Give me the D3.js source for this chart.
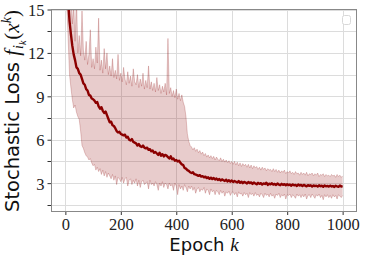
<!DOCTYPE html>
<meta charset="utf-8">
<style>
body { margin: 0; background: white; }
.tick text { font-family: "Liberation Serif", serif; font-size: 16.5px; fill: #222; }
</style>
<body>
<script src="https://cdn.jsdelivr.net/npm/d3@7"></script>
<script>

// epochs sampled every 5
const epochs = d3.range(5, 1001, 5);

const meanLoss = [
  17.5, 15.6, 14.2, 13.3, 12.5, 11.9, 11.5, 11.0, 10.9, 10.6,
  10.5, 10.2, 9.9, 9.8, 9.5, 9.4, 9.1, 9.05, 8.85, 8.8,
  8.7, 8.55, 8.6, 8.3, 8.15, 8.25, 8.0, 7.85, 7.95, 7.7,
  7.45, 7.2, 7.25, 7.0, 6.95, 6.8, 6.6, 6.5, 6.55, 6.4,
  6.35, 6.3, 6.35, 6.15, 6.2, 6.0, 5.95, 6.05, 5.85, 5.8,
  5.75, 5.6, 5.7, 5.55, 5.5, 5.6, 5.45, 5.4, 5.45, 5.3,
  5.35, 5.2, 5.25, 5.1, 5.15, 5.05, 4.95, 5.1, 4.9, 5.0,
  4.85, 4.95, 4.9, 4.8, 4.7, 4.85, 4.65, 4.7, 4.55, 4.6,
  4.5, 4.55, 4.4, 4.3, 4.25, 4.05, 4.0, 3.9, 3.85, 3.75,
  3.7, 3.75, 3.62, 3.6, 3.55, 3.5, 3.55, 3.45, 3.48, 3.4,
  3.45, 3.35, 3.4, 3.3, 3.38, 3.28, 3.35, 3.25, 3.32, 3.22,
  3.28, 3.18, 3.26, 3.2, 3.15, 3.24, 3.12, 3.2, 3.1, 3.18,
  3.08, 3.15, 3.1, 3.05, 3.14, 3.02, 3.1, 3.0, 3.08, 3.04,
  2.98, 3.08, 3.0, 3.05, 2.95, 3.04, 2.98, 2.92, 3.02, 2.95,
  3.0, 2.9, 2.98, 2.94, 3.03, 2.88, 2.96, 2.92, 2.99, 2.9,
  2.95, 2.87, 2.97, 2.9, 2.86, 2.95, 2.88, 2.93, 2.85, 2.92,
  2.86, 2.9, 2.82, 2.91, 2.85, 2.88, 2.8, 2.9, 2.84, 2.87,
  2.8, 2.88, 2.83, 2.78, 2.86, 2.81, 2.85, 2.77, 2.84, 2.8,
  2.83, 2.76, 2.85, 2.79, 2.82, 2.75, 2.84, 2.78, 2.81, 2.76,
  2.83, 2.77, 2.8, 2.74, 2.82, 2.78, 2.75, 2.83, 2.77, 2.79
];

const maxLoss = [
  18.0, 17.0, 16.5, 15.8, 14.0, 15.5, 12.8, 16.0, 12.0, 13.2,
  11.8, 14.9, 12.2, 11.5, 12.8, 11.2, 11.9, 13.6, 11.0, 11.6,
  10.9, 12.4, 11.3, 14.4, 10.8, 11.5, 10.6, 12.3, 10.9, 12.0,
  10.5, 11.1, 10.4, 11.6, 10.3, 10.8, 10.2, 11.9, 10.1, 10.6,
  10.0, 11.0, 10.2, 9.8, 10.7, 9.9, 10.4, 9.7, 10.9, 10.0,
  9.8, 10.5, 9.6, 10.2, 9.7, 10.6, 9.5, 10.1, 9.6, 11.1,
  9.5, 10.0, 9.4, 9.9, 9.3, 10.3, 9.4, 9.8, 9.2, 9.7,
  9.3, 9.9, 9.1, 13.0, 9.2, 9.6, 9.0, 9.4, 8.9, 9.5,
  8.8, 9.2, 8.7, 9.1, 8.6, 8.3, 7.6, 6.4, 5.9, 5.6,
  5.5, 5.3, 5.45, 5.2, 5.35, 5.1, 5.25, 5.0, 5.15, 4.9,
  5.05, 4.8, 4.95, 4.75, 4.9, 4.7, 4.85, 4.6, 4.8, 4.65,
  4.55, 4.75, 4.5, 4.65, 4.45, 4.6, 4.4, 4.55, 4.35, 4.5,
  4.3, 4.5, 4.25, 4.45, 4.2, 4.4, 4.15, 4.35, 4.2, 4.3,
  4.1, 4.3, 4.05, 4.25, 4.0, 4.2, 4.05, 4.15, 3.95, 4.1,
  3.9, 4.1, 3.95, 4.05, 3.85, 4.0, 3.9, 3.95, 3.8, 4.0,
  3.8, 3.95, 3.75, 3.9, 3.7, 3.85, 3.75, 3.9, 3.65, 3.8,
  3.7, 3.85, 3.65, 3.75, 3.6, 3.8, 3.65, 3.7, 3.55, 3.75,
  3.6, 3.7, 3.55, 3.75, 3.5, 3.65, 3.6, 3.7, 3.5, 3.65,
  3.55, 3.7, 3.45, 3.6, 3.55, 3.65, 3.45, 3.6, 3.5, 3.55,
  3.45, 3.6, 3.5, 3.55, 3.4, 3.6, 3.45, 3.55, 3.4, 3.5
];

const minLoss = [
  15.5, 13.0, 10.5, 9.6, 8.8, 8.2, 8.4, 7.9, 7.6, 7.4,
  6.6, 5.6, 5.4, 5.1, 4.9, 4.8, 4.6, 4.7, 4.4, 4.2,
  4.3, 3.9, 4.1, 3.8, 4.0, 3.6, 3.9, 3.5, 3.8, 3.4,
  3.7, 3.5, 3.3, 3.6, 3.2, 3.5, 2.9, 3.4, 3.3, 3.1,
  3.4, 3.0, 3.3, 3.4, 2.8, 3.2, 3.3, 2.9, 3.2, 3.0,
  3.3, 2.8, 3.2, 2.7, 3.1, 3.2, 2.9, 3.0, 3.1, 2.6,
  3.2, 2.9, 3.0, 2.8, 3.1, 2.9, 2.5, 3.0, 2.8, 3.1,
  2.7, 3.0, 2.9, 2.6, 3.0, 2.8, 2.9, 2.5, 3.0, 2.8,
  2.2, 2.9, 2.6, 2.8, 2.5, 2.9, 2.7, 2.4, 2.8, 2.6,
  2.8, 2.5, 2.7, 2.3, 2.6, 2.7, 2.4, 2.6, 2.5, 2.7,
  2.3, 2.6, 2.5, 2.2, 2.6, 2.4, 2.5, 2.2, 2.5, 2.4,
  2.2, 2.5, 2.3, 2.45, 2.1, 2.4, 2.3, 2.45, 2.15, 2.35,
  2.4, 2.2, 2.35, 2.05, 2.4, 2.25, 2.3, 2.1, 2.35, 2.2,
  2.3, 2.0, 2.35, 2.2, 2.3, 2.1, 2.35, 2.15, 2.25, 2.05,
  2.3, 2.2, 2.0, 2.3, 2.15, 2.25, 2.05, 2.3, 2.1, 2.2,
  1.95, 2.25, 2.15, 2.3, 2.0, 2.2, 2.1, 2.25, 1.9, 2.2,
  2.15, 2.25, 2.0, 2.2, 2.1, 1.95, 2.25, 2.1, 2.2, 2.0,
  2.2, 2.05, 2.25, 1.9, 2.15, 2.2, 2.0, 2.25, 2.1, 1.95,
  2.2, 2.1, 2.25, 2.0, 2.15, 1.85, 2.2, 2.05, 2.2, 2.0,
  2.15, 1.95, 2.2, 2.05, 2.15, 1.9, 2.2, 2.1, 2.0, 2.15
];

const xTicks = [0, 200, 400, 600, 800, 1000];
const yTicks = [3, 6, 9, 12, 15];
const yMinor = [1.5, 4.5, 7.5, 10.5, 13.5];

var width = 365,
    height = 260;

var x = d3.scaleLinear().domain([-50, 1050]).range([51.5, 356.5]);
var y = d3.scaleLinear().domain([1.04, 15]).range([211.5, 9.5]);

var svg = d3.select("body").append("svg")
    .attr("width", width)
    .attr("height", height);

svg.append("clipPath").attr("id", "clip")
  .append("rect")
    .attr("x", x.range()[0]).attr("y", y.range()[1])
    .attr("width", x.range()[1] - x.range()[0])
    .attr("height", y.range()[0] - y.range()[1]);

// grid
var grid = svg.append("g").attr("stroke", "#dcdcdc").attr("stroke-width", 1);
grid.selectAll(".gx").data(xTicks).enter().append("line")
    .attr("x1", d => Math.round(x(d)) + 0.5).attr("x2", d => Math.round(x(d)) + 0.5)
    .attr("y1", y.range()[1]).attr("y2", y.range()[0]);
grid.selectAll(".gy").data(yTicks.concat(yMinor)).enter().append("line")
    .attr("y1", d => Math.round(y(d)) + 0.5).attr("y2", d => Math.round(y(d)) + 0.5)
    .attr("x1", x.range()[0]).attr("x2", x.range()[1]);

var rows = epochs.map((e, i) => ({e: e, m: meanLoss[i], lo: minLoss[i], hi: maxLoss[i]}));

var plot = svg.append("g").attr("clip-path", "url(#clip)");

plot.append("path")
    .datum(rows)
    .attr("fill", "#8b0000")
    .attr("fill-opacity", 0.2)
    .attr("d", d3.area().x(d => x(d.e)).y0(d => y(d.lo)).y1(d => y(d.hi)));

["lo", "hi"].forEach(k => {
  plot.append("path")
      .datum(rows)
      .attr("fill", "none")
      .attr("stroke", "#8b0000")
      .attr("stroke-opacity", 0.3)
      .attr("stroke-width", 0.7)
      .attr("d", d3.line().x(d => x(d.e)).y(d => y(d[k])));
});

plot.append("path")
    .datum(rows)
    .attr("fill", "none")
    .attr("stroke", "#8b0000")
    .attr("stroke-width", 2.4)
    .attr("stroke-linejoin", "round")
    .attr("d", d3.line().x(d => x(d.e)).y(d => y(d.m)));

// axes
var xAxis = svg.append("g")
    .attr("transform", "translate(0," + y.range()[0] + ")")
    .call(d3.axisBottom(x).tickValues(xTicks).tickSize(3.5).tickPadding(3).tickFormat(d3.format("d")));
var yAxis = svg.append("g")
    .attr("transform", "translate(" + x.range()[0] + ",0)")
    .call(d3.axisLeft(y).tickValues(yTicks).tickSize(4).tickPadding(3).tickFormat(d3.format("d")));
yAxis.selectAll(".minor").data(yMinor).enter().append("line")
    .attr("x1", -4).attr("x2", 0)
    .attr("y1", d => Math.round(y(d)) + 0.5).attr("y2", d => Math.round(y(d)) + 0.5)
    .attr("stroke", "#333");
[xAxis, yAxis].forEach(a => {
  a.select(".domain").remove();
  a.selectAll(".tick line").attr("stroke", "#333");
});
yAxis.selectAll(".tick text").attr("dy", "0.36em");

// frame
svg.append("rect")
    .attr("x", x.range()[0]).attr("y", y.range()[1])
    .attr("width", x.range()[1] - x.range()[0])
    .attr("height", y.range()[0] - y.range()[1])
    .attr("fill", "none").attr("stroke", "#888").attr("stroke-width", 1);

// empty legend
svg.append("rect")
    .attr("x", 342.5).attr("y", 15.5).attr("width", 8).attr("height", 9).attr("rx", 2)
    .attr("fill", "white").attr("stroke", "#d8d8d8");

// labels
var xl = svg.append("text")
    .attr("x", 204).attr("y", 251)
    .attr("text-anchor", "middle")
    .attr("font-family", "DejaVu Sans").attr("font-size", 18).attr("fill", "#111")
    .text("Epoch ");
xl.append("tspan").attr("font-family", "Liberation Serif").attr("font-style", "italic")
    .attr("font-size", 19).text("k");

var yl = svg.append("text")
    .attr("transform", "translate(18.5,111) rotate(-90)")
    .attr("text-anchor", "middle")
    .attr("font-family", "DejaVu Sans").attr("font-size", 19.5).attr("fill", "#111");
yl.append("tspan").text("Stochastic Loss ");
yl.append("tspan").attr("font-family", "Liberation Serif").attr("font-style", "italic").attr("font-size", 21).text("f");
yl.append("tspan").attr("font-family", "Liberation Serif").attr("font-style", "italic").attr("font-size", 14).attr("dy", 4.5).attr("dx", 1).text("i");
yl.append("tspan").attr("font-family", "Liberation Serif").attr("font-style", "italic").attr("font-size", 10).attr("dy", 3).text("k");
yl.append("tspan").attr("font-family", "Liberation Serif").attr("font-size", 21).attr("dy", -7.5).attr("dx", 1).text("(");
yl.append("tspan").attr("font-family", "Liberation Serif").attr("font-style", "italic").attr("font-size", 21).text("x");
yl.append("tspan").attr("font-family", "Liberation Serif").attr("font-style", "italic").attr("font-size", 14).attr("dy", -8).text("k");
yl.append("tspan").attr("font-family", "Liberation Serif").attr("font-size", 21).attr("dy", 8).text(")");

</script>
</body>
</html>
